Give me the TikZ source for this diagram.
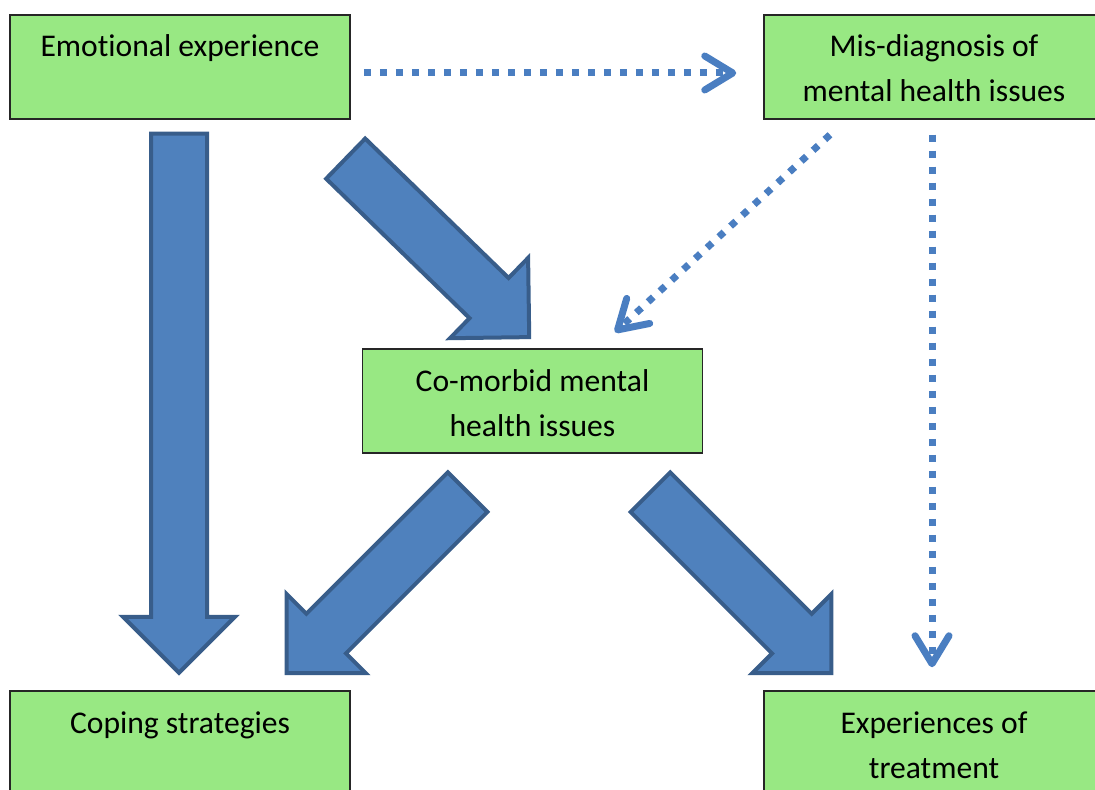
\documentclass[tikz,border=0pt]{standalone}
\usepackage{fontspec}
\setmainfont{Carlito}[Ligatures=NoCommon]
\usetikzlibrary{calc, arrows.meta, shapes.arrows, positioning}
\definecolor{boxgreen}{RGB}{152,232,131}
\definecolor{arrowblue}{RGB}{79,129,189}
\definecolor{arrowline}{RGB}{56,93,138}
\definecolor{dotblue}{RGB}{74,126,193}

\begin{document}
\begin{tikzpicture}[
        x=0.5pt, y=-0.5pt,
        box/.style={draw=black!85, fill=boxgreen, line width=0.75pt,
            minimum width=170pt, minimum height=52pt, inner sep=0pt, align=center,
            font=\fontsize{15.8}{22.5}\selectfont, text height=41pt, text depth=6pt},
        fat/.style={single arrow, draw=arrowline, fill=arrowblue, line width=2pt,
            text height=13pt, text depth=13pt, minimum width=55pt,
            single arrow head extend=14pt, single arrow tip angle=90,
            inner sep=0pt, anchor=tail},
        dots/.style={draw=dotblue, line width=3.5pt, dash pattern=on 3.5pt off 4.5pt,
            -{Straight Barb[length=14pt, width=17pt, line width=3.5pt, line cap=round, line join=round]}},
    ]
    \useasboundingbox (0,0) rectangle (1095,790);
    \clip (0,0) rectangle (1095,790);
    % Nodes
    \node[box] (emotion) at (180,67) {Emotional experience\\\strut};
    \node[box] (misdiag) at (934,67) {Mis-diagnosis of\\mental health issues};
    \node[box] (comorbid) at (532.5,401) {Co-morbid mental\\health issues};
    \node[box] (coping) at (180,743) {Coping strategies\\\strut};
    \node[box] (treatment) at (934,743) {Experiences of\\treatment};
    % Big arrows
    \node[fat, rotate=-90, minimum height=269.5pt] (emo2cop) at ($(emotion.south)+(-1,12)$) {};
    \node[fat, rotate=-44.2, minimum height=128pt] (emo2com) at ($(emotion.south east)+(-6.5,37.5)$) {};
    \node[fat, rotate=-135, minimum height=128pt] (com2cop) at ($(comorbid.south)+(-63.5,37)$) {};
    \node[fat, rotate=-45, minimum height=128pt] (com2tre) at ($(comorbid.south)+(116.5,37)$) {};
    % Dotted arrows
    \draw[dots] ([shift={(13,6)}]emotion.east) -- ([shift={(-27,6)}]misdiag.west);
    \draw[dots] ([shift={(-104,15)}]misdiag.south) -- ([shift={(82.5,-16)}]comorbid.north);
    \draw[dots] ([shift={(-2,15)}]misdiag.south) -- ([shift={(-2,-23)}]treatment.north);
\end{tikzpicture}
\end{document}
